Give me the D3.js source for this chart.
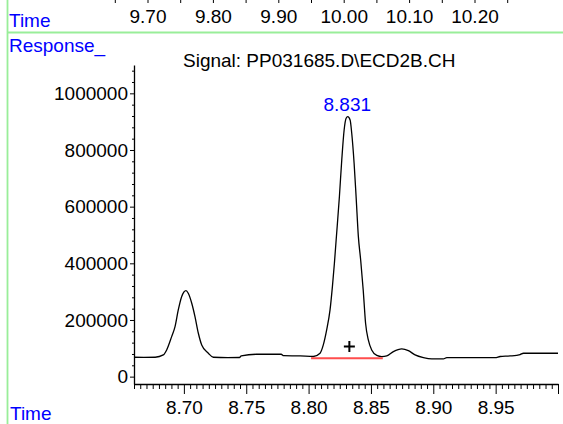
<!DOCTYPE html>
<html>
<head>
<meta charset="utf-8">
<script src="https://cdn.jsdelivr.net/npm/d3@7/dist/d3.min.js"></script>
<style>
  html, body { margin: 0; padding: 0; background: #fff; }
  svg { display: block; }
  text { font-family: "Liberation Sans", Arial, sans-serif; }
</style>
</head>
<body>
<svg id="chart" width="563" height="424"></svg>
<script>
// ---- Data ----
const traceTime = [
  8.660, 8.668, 8.677, 8.6835, 8.6862, 8.6902, 8.6929, 8.6955, 8.6982, 8.7017,
  8.7035, 8.7063, 8.7089, 8.7116, 8.7143, 8.7196, 8.7236, 8.735, 8.7445, 8.746,
  8.758, 8.778, 8.780, 8.7932, 8.8038, 8.8092, 8.8118, 8.8145, 8.8172, 8.8191,
  8.8207, 8.8221, 8.8247, 8.8266, 8.8285, 8.8301, 8.8314, 8.8333, 8.8346, 8.8365,
  8.8381, 8.8399, 8.8418, 8.8438, 8.8457, 8.8479, 8.8506, 8.8547, 8.8587, 8.8627,
  8.8680, 8.8747, 8.8800, 8.8854, 8.8921, 8.8988, 8.9081, 8.9108, 8.9496, 8.9536,
  8.9616, 8.9696, 8.9723, 9.0000
];
const traceResponse = [
  68500, 68000, 68500, 76600, 94200, 141200, 176500, 235400, 282300, 303500,
  294300, 259000, 211800, 153200, 111900, 82600, 68500, 67000, 67500, 73000,
  79000, 79000, 74000, 73000, 71000, 82600, 111900, 164800, 235400, 317600,
  400200, 482400, 635200, 764800, 870700, 911900, 917600, 906000, 859000, 753100,
  635200, 495000, 410000, 306000, 188500, 129500, 94200, 74800, 70600, 73000,
  88200, 97800, 91800, 76600, 67000, 62500, 62500, 67000, 67000, 71000,
  73000, 78000, 82600, 82600
];
const peakTime = [8.831];
const peakResponse = [917600];
const peakLabels = ["8.831"];
const baselineTime = [8.802, 8.8595];
const baselineResponse = [65000, 65000];
const markerTime = [8.8327];
const markerResponse = [106000];

const yTicks = [0, 200000, 400000, 600000, 800000, 1000000];
const xTicks = [8.70, 8.75, 8.80, 8.85, 8.90, 8.95];
const topTicks = [9.70, 9.80, 9.90, 10.00, 10.10, 10.20];
const titleText = "Signal: PP031685.D\\ECD2B.CH";

// ---- Drawing ----
const svg = d3.select("#chart");
svg.append("rect").attr("width", 563).attr("height", 424).attr("fill", "#fff");

const green = "#99ee99";
const blue = "#0000ff";
const FS = 19;

// frame lines
svg.append("line").attr("x1", 7.5).attr("x2", 7.5).attr("y1", 0).attr("y2", 424)
  .attr("stroke", green).attr("stroke-width", 1.8);
svg.append("line").attr("x1", 7.5).attr("x2", 563).attr("y1", 32.5).attr("y2", 32.5)
  .attr("stroke", green).attr("stroke-width", 1.8);

// top overview time axis
const xTop = d3.scaleLinear().domain([9.70, 10.20]).range([148, 475]);
const topMinor = d3.range(9.65, 10.26, 0.05).map(v => +v.toFixed(2));
svg.selectAll(".topTick").data(topMinor).join("line")
  .attr("x1", d => xTop(d)).attr("x2", d => xTop(d))
  .attr("y1", 0).attr("y2", 3).attr("stroke", "#000").attr("stroke-width", 1);
svg.selectAll(".topLabel").data(topTicks).join("text")
  .attr("x", d => xTop(d)).attr("y", 23)
  .attr("text-anchor", "middle").attr("font-size", FS).attr("fill", "#000")
  .text(d => d.toFixed(2));

// blue labels
svg.append("text").attr("x", 9).attr("y", 27).attr("font-size", FS).attr("fill", blue).text("Time");
svg.append("text").attr("x", 9).attr("y", 52).attr("font-size", FS).attr("fill", blue).text("Response_");
svg.append("text").attr("x", 10).attr("y", 420).attr("font-size", FS).attr("fill", blue).text("Time");

// title
svg.append("text").attr("x", 183).attr("y", 67).attr("font-size", FS).attr("fill", "#000").text(titleText);

// scales
const x = d3.scaleLinear().domain([8.66, 9.00]).range([134, 558]);
const y = d3.scaleLinear().domain([-26000, 1100000]).range([384, 65]);

// y axis
const yMinor = d3.range(0, 1100001, 40000).filter(v => v % 200000 !== 0);
const gyMinor = svg.append("g").attr("transform", "translate(134,0)")
  .call(d3.axisLeft(y).tickValues(yMinor).tickSize(2).tickSizeOuter(0).tickFormat(""));
gyMinor.select(".domain").remove();
const gy = svg.append("g").attr("transform", "translate(134,0)")
  .call(d3.axisLeft(y).tickValues(yTicks).tickSize(4).tickSizeOuter(0).tickPadding(2)
    .tickFormat(d3.format("d")));
gy.selectAll("text").attr("font-size", FS).attr("fill", "#000")
  .style("font-family", '"Liberation Sans", Arial, sans-serif');
gy.select(".domain").attr("stroke-width", 1.3);

// x axis
const xMinor = d3.range(0, 69).map(i => +(8.66 + i * 0.005).toFixed(3))
  .filter(v => !xTicks.some(t => Math.abs(t - v) < 1e-6) && Math.abs(v - 9.0) > 1e-6);
const gxMinor = svg.append("g").attr("transform", "translate(0,384)")
  .call(d3.axisBottom(x).tickValues(xMinor).tickSize(5).tickSizeOuter(0).tickFormat(""));
gxMinor.select(".domain").remove();
const gxEnd = svg.append("g").attr("transform", "translate(0,384)")
  .call(d3.axisBottom(x).tickValues([9.00]).tickSize(10).tickSizeOuter(0).tickFormat(""));
gxEnd.select(".domain").remove();
const gx = svg.append("g").attr("transform", "translate(0,384)")
  .call(d3.axisBottom(x).tickValues(xTicks).tickSize(10).tickSizeOuter(0).tickPadding(7)
    .tickFormat(d3.format(".2f")));
gx.selectAll("text").attr("font-size", FS).attr("fill", "#000")
  .style("font-family", '"Liberation Sans", Arial, sans-serif');
gx.select(".domain").attr("stroke-width", 1.3);

// trace
const pts = traceTime.map((t, i) => [t, traceResponse[i]]);
const line = d3.line().x(d => x(d[0])).y(d => y(d[1])).curve(d3.curveMonotoneX);
svg.append("path").datum(pts).attr("d", line)
  .attr("fill", "none").attr("stroke", "#000").attr("stroke-width", 1.3);

// integration baseline
const bpts = baselineTime.map((t, i) => [t, baselineResponse[i]]);
svg.append("path").datum(bpts).attr("d", d3.line().x(d => x(d[0])).y(d => y(d[1])))
  .attr("fill", "none").attr("stroke", "#ff4d4d").attr("stroke-width", 2);

// marker
markerTime.forEach((t, i) => {
  const cx = x(t), cy = y(markerResponse[i]);
  svg.append("path").attr("d", `M${cx - 5.5},${cy}H${cx + 5.5}M${cx},${cy - 5.5}V${cy + 5.5}`)
    .attr("stroke", "#000").attr("stroke-width", 2);
});

// peak label
svg.selectAll(".peakLabel").data(peakTime).join("text")
  .attr("x", d => x(d)).attr("y", (d, i) => y(peakResponse[i]) - 5.5)
  .attr("text-anchor", "middle").attr("font-size", FS).attr("fill", blue)
  .text((d, i) => peakLabels[i]);
</script>
</body>
</html>
